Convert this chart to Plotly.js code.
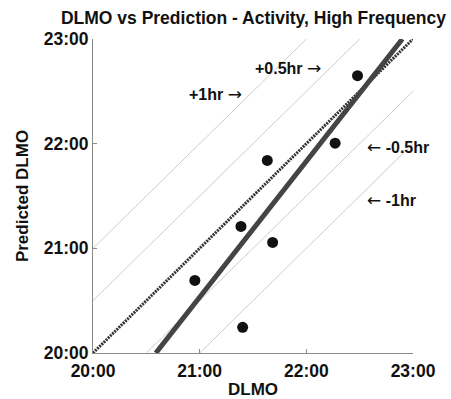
<!DOCTYPE html>
<html>
<head>
<meta charset="utf-8">
<script src="https://cdn.plot.ly/plotly-3.0.1.min.js"></script>
<style>html,body{margin:0;padding:0;background:#fff;}#chart{width:451px;height:399px;}</style>
</head>
<body>
<div id="chart"></div>
<script>
// Data (hours, decimal clock time)
const dlmo      = [20.955, 21.387, 21.684, 21.634, 21.403, 22.27, 22.48];
const predicted = [20.693, 21.209, 21.056, 21.84, 20.245, 22.005, 22.65];
const identityX = [20, 23];
const identityY = [20, 23];
const fitX = [20.589, 22.9];
const fitY = [20, 23];
const offsets = [1, 0.5, -0.5, -1];
const AR = "<span style='font-family:DejaVu Sans;font-size:17px;font-weight:normal'>\u2192</span>";
const AL = "<span style='font-family:DejaVu Sans;font-size:17px;font-weight:normal'>\u2190</span>";
const offsetLabels = ["+1hr " + AR, "+0.5hr " + AR, AL + " -0.5hr", AL + " -1hr"];
const labelX = [20.88, 21.5, 22.55, 22.55];
const labelY = [22.477, 22.725, 21.97, 21.464];
const tickVals = [20, 21, 22, 23];
const tickText = ["20:00", "21:00", "22:00", "23:00"];

const FONT = "Liberation Sans, Arial, sans-serif";
const traces = [];
offsets.forEach(o => {
  const x0 = Math.max(20, 20 - o), x1 = Math.min(23, 23 - o);
  traces.push({x: [x0, x1], y: [x0 + o, x1 + o], mode: 'lines',
    line: {color: '#cccccc', width: 1}, hoverinfo: 'skip', showlegend: false});
});
traces.push({x: identityX, y: identityY, mode: 'lines',
  line: {color: '#333333', width: 3, dash: '2px,1px'}, showlegend: false});
traces.push({x: fitX, y: fitY, mode: 'lines',
  line: {color: '#444444', width: 5}, showlegend: false});
traces.push({x: dlmo, y: predicted, mode: 'markers',
  marker: {color: '#111111', size: 11}, showlegend: false, cliponaxis: false});

const annotations = offsetLabels.map((t, i) => ({
  x: labelX[i], y: labelY[i], xref: 'x', yref: 'y', text: t, showarrow: false,
  xanchor: 'left', yanchor: 'middle',
  font: {family: FONT, size: 16, color: '#111', weight: 'bold'}
}));

const axisCommon = {
  range: [20, 23], tickvals: tickVals, ticktext: tickText,
  showgrid: false, zeroline: false, showline: true, linecolor: '#8a8a8a', linewidth: 1,
  ticks: 'inside', ticklen: 4, tickcolor: '#8a8a8a',
  tickfont: {family: FONT, size: 17.5, color: '#111', weight: 'bold'}
};

const layout = {
  width: 451, height: 399,
  margin: {l: 93, r: 38, t: 39, b: 46},
  paper_bgcolor: '#fff', plot_bgcolor: '#fff',
  title: {text: 'DLMO vs Prediction - Activity, High Frequency', x: 0.562, xanchor: 'center', y: 0.955, yanchor: 'middle',
    font: {family: FONT, size: 17.5, color: '#111', weight: 'bold'}},
  xaxis: Object.assign({}, axisCommon, {ticklabelstandoff: 2, title: {text: 'DLMO', standoff: 8,
    font: {family: FONT, size: 17, color: '#111', weight: 'bold'}}}),
  yaxis: Object.assign({}, axisCommon, {title: {text: 'Predicted DLMO', standoff: 10,
    font: {family: FONT, size: 17, color: '#111', weight: 'bold'}}}),
  annotations: annotations,
  showlegend: false
};

Plotly.newPlot('chart', traces, layout, {displayModeBar: false, staticPlot: true});
</script>
</body>
</html>
